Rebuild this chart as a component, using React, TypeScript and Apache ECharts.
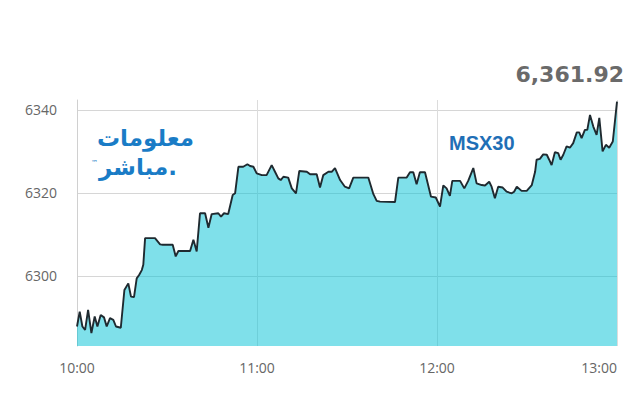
import React, { useEffect, useRef } from "react";
import * as echarts from "echarts";

// minutes after 10:00
const minutes = [
  0, 0.9, 1.8, 2.7, 3.7, 4.8, 5.9, 6.8, 7.9, 9.0, 9.9, 11, 12.1, 13, 14.6,
  15.8, 17.1, 18, 19, 19.9, 20.7, 21.6, 22.1, 22.7, 26, 27.7, 28.6, 31.9, 32.9,
  33.8, 37.7, 38.8, 39.9, 41, 42.7, 43.8, 44.9, 47.1, 48, 49, 50.4, 51.9, 52.7,
  53.8, 55.4, 56.8, 57.7, 58.8, 59.9, 61.6, 63.2, 64.9, 66, 67.1, 67.9, 68.8,
  70.4, 71.6, 73, 74.1, 76.6, 77.7, 79.9, 81, 82.1, 83.8, 84.9, 86, 87.7, 89.3,
  90.7, 92.1, 97.1, 98.8, 99.9, 101, 106, 107.1, 109.9, 111, 112.1, 113.2,
  114.3, 116, 118, 119.6, 121, 122.1, 123.2, 124.3, 125.1, 127.7, 129.1, 130.4,
  132.1, 133.2, 134.9, 136, 137.4, 138.2, 139.3, 140.4, 141.9, 143.2, 144.9,
  145.7, 146.6, 148.2, 149.9, 151.6, 152.7, 153.2, 154.3, 155.4, 156.6, 157.4,
  158.2, 159.3, 160.4, 161.2, 162.1, 163.2, 164.3, 165.4, 166.6, 167.4, 168.2,
  169.3, 170.1, 171, 172.1, 173.2, 174.1, 175.2, 176.3, 177.4, 178.6, 180,
];

const values = [
  6287.8, 6291.4, 6287.8, 6287.0, 6291.8, 6286.2, 6290.2, 6287.8, 6290.6,
  6290.0, 6287.8, 6289.8, 6289.4, 6287.8, 6287.5, 6296.6, 6298.2, 6295.0,
  6294.9, 6299.4, 6300.2, 6301.4, 6302.7, 6309.1, 6309.1, 6307.6, 6307.5,
  6307.5, 6304.7, 6306.0, 6306.0, 6308.7, 6305.9, 6315.1, 6315.1, 6311.6,
  6314.9, 6315.1, 6314.3, 6315.1, 6314.9, 6319.5, 6319.9, 6326.3, 6326.3,
  6326.9, 6326.5, 6326.3, 6324.7, 6324.3, 6324.3, 6326.7, 6325.1, 6323.5,
  6323.1, 6323.9, 6323.7, 6321.1, 6319.9, 6325.3, 6325.1, 6324.5, 6324.5,
  6321.3, 6324.3, 6325.1, 6325.1, 6326.0, 6323.1, 6321.5, 6321.1, 6323.7,
  6323.7, 6319.7, 6318.1, 6317.9, 6317.8, 6323.7, 6323.7, 6325.0, 6325.0,
  6322.1, 6325.0, 6325.0, 6319.1, 6318.9, 6316.7, 6321.8, 6321.1, 6319.3,
  6322.9, 6322.9, 6321.1, 6322.9, 6326.0, 6322.3, 6321.9, 6321.8, 6322.7,
  6321.5, 6318.7, 6321.5, 6321.3, 6320.3, 6319.9, 6320.3, 6321.5, 6320.5,
  6320.5, 6321.9, 6325.1, 6328.0, 6328.2, 6329.3, 6329.2, 6328.0, 6326.7,
  6329.8, 6329.6, 6328.0, 6329.2, 6331.2, 6330.9, 6332.0, 6334.6, 6334.6,
  6333.2, 6335.2, 6335.2, 6338.8, 6336.0, 6334.0, 6338.1, 6330.0, 6331.6,
  6330.9, 6332.4, 6342.0,
];

const yTicks = [6300, 6320, 6340];
const xTicks = ["10:00", "11:00", "12:00", "13:00"];
const lastValueLabel = "6,361.92";
const indexName = "MSX30";
const logoLine1 = "معلومات";
const logoLine2 = "مباشر.";

export default function App() {
  const ref = useRef<HTMLDivElement>(null);

  useEffect(() => {
    document.body.style.margin = "0";
    if (!ref.current) return;
    const chart = echarts.init(ref.current, null, { renderer: "svg" });
    const data = minutes.map((m, i) => [m, values[i]]);
    chart.setOption({
      animation: false,
      backgroundColor: "#ffffff",
      grid: { left: 77, right: 23, top: 100, bottom: 54 },
      xAxis: {
        type: "value",
        min: 0,
        max: 180,
        interval: 60,
        axisLine: { show: false },
        axisTick: { show: false },
        axisLabel: {
          color: "#666",
          fontSize: 14,
          fontFamily: "Open Sans",
          margin: 14,
          alignMaxLabel: "right",
          formatter: (v: number) => xTicks[Math.round(v / 60)] ?? "",
        },
        splitLine: { show: true, lineStyle: { color: "#dcdcdc", width: 1 } },
      },
      yAxis: {
        type: "value",
        min: 6283.1,
        max: 6342.4,
        axisLine: { show: true, lineStyle: { color: "#d0d0d0", width: 1 } },
        axisTick: { show: false, customValues: yTicks },
        axisLabel: {
          color: "#666",
          fontSize: 14,
          fontFamily: "Open Sans",
          margin: 20,
          customValues: yTicks,
          formatter: (v: number) => String(Math.round(v)),
        },
        splitLine: { show: true, lineStyle: { color: "#d6d6d6", width: 1 } },
      },
      series: [
        {
          type: "line",
          data,
          showSymbol: false,
          symbol: "none",
          lineStyle: { color: "#1f2a30", width: 1.9 },
          areaStyle: { color: "rgb(0,193,213)", opacity: 0.5 },
        },
      ],
      graphic: [
        {
          type: "text",
          right: 16,
          top: 63,
          style: {
            text: lastValueLabel,
            fill: "#6a6a6a",
            font: "bold 22px 'DejaVu Sans'",
          },
        },
        {
          type: "text",
          left: 449,
          top: 133,
          style: {
            text: indexName,
            fill: "#1f6fb6",
            font: "bold 20px 'Liberation Sans'",
          },
        },
        {
          type: "text",
          left: 97,
          top: 126,
          style: {
            text: logoLine1,
            fill: "#1a7cc6",
            font: "bold 23px 'DejaVu Sans'",
          },
        },
        {
          type: "text",
          left: 99,
          top: 155,
          style: {
            text: logoLine2,
            fill: "#1a7cc6",
            font: "bold 23px 'DejaVu Sans'",
          },
        },
        {
          type: "text",
          left: 91,
          top: 159,
          style: {
            text: "™",
            fill: "#1a7cc6",
            font: "7px 'DejaVu Sans'",
          },
        },
      ],
    });
    return () => chart.dispose();
  }, []);

  return <div ref={ref} style={{ width: 640, height: 400 }} />;
}
